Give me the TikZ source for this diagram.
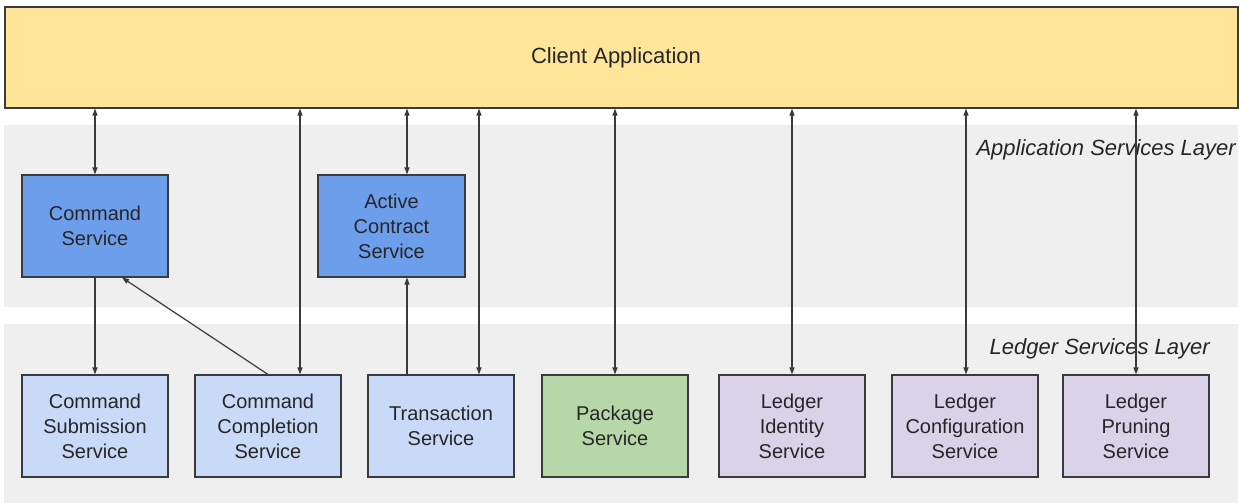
\documentclass[tikz,border=0pt]{standalone}
\usepackage{fontspec}
\setmainfont{Liberation Sans}
\usetikzlibrary{arrows.meta}
\definecolor{clientfill}{HTML}{FFE599}
\definecolor{bandfill}{HTML}{EFEFEF}
\definecolor{appfill}{HTML}{6D9EEB}
\definecolor{ledgerblue}{HTML}{C9DAF8}
\definecolor{pkgfill}{HTML}{B6D7A8}
\definecolor{purplefill}{HTML}{D9D2E9}
\definecolor{edge}{HTML}{3A3A3A}
\tikzset{
  svcbox/.style={draw=edge, line width=1.1pt, minimum width=146pt, minimum height=102pt, inner sep=0pt, align=center, font=\fontsize{20}{25}\selectfont, text=black!85},
  band/.style={fill=bandfill, draw=none},
  layerlabel/.style={font=\fontsize{22}{26}\selectfont\itshape, text=black!85, inner sep=0pt},
  conn/.style={draw=edge, line width=1.2pt, -{Triangle[length=7pt,width=5pt]}},
  biconn/.style={draw=edge, line width=1.2pt, {Triangle[length=7pt,width=5pt]}-{Triangle[length=7pt,width=5pt]}}
}
\begin{document}
\begin{tikzpicture}[x=1pt,y=-1pt]
\useasboundingbox (0,0) rectangle (1247,503);
\fill[white] (0,0) rectangle (1247,503);
% bands
\path[band] (4,125) rectangle (1238,307);
\path[band] (4,324) rectangle (1238,503);
\node[layerlabel, anchor=east] (applab) at (1236,150) {Application Services Layer};
\node[layerlabel, anchor=east] (ledlab) at (1210,349) {Ledger Services Layer};
% client
\node[svcbox, fill=clientfill, minimum width=1233pt, minimum height=101pt] (client) at (621.5,57.5) {};
\node[font=\fontsize{22}{26}\selectfont, text=black!85, inner sep=0pt] (clientlab) at (616,58) {Client Application};
% application services
\node[svcbox, fill=appfill] (cmd) at (95,226) {Command\\Service};
\node[svcbox, fill=appfill, minimum width=147pt] (acs) at (391.5,226) {Active\\Contract\\Service};
% ledger services
\node[svcbox, fill=ledgerblue] (sub) at (95,426) {Command\\Submission\\Service};
\node[svcbox, fill=ledgerblue] (comp) at (268,426) {Command\\Completion\\Service};
\node[svcbox, fill=ledgerblue] (tx) at (441,426) {Transaction\\Service};
\node[svcbox, fill=pkgfill] (pkg) at (615,426) {Package\\Service};
\node[svcbox, fill=purplefill] (lid) at (792,426) {Ledger\\Identity\\Service};
\node[svcbox, fill=purplefill] (lcfg) at (965,426) {Ledger\\Configuration\\Service};
\node[svcbox, fill=purplefill] (lpr) at (1136,426) {Ledger\\Pruning\\Service};
% connector end points
\coordinate (compin) at ([xshift=32pt]comp.north);
\coordinate (compout) at (comp.north);
\coordinate (cmdin) at ([xshift=27pt]cmd.south);
\coordinate (acsin) at ([xshift=15.5pt]acs.north);
\coordinate (acsbot) at ([xshift=15.5pt]acs.south);
\coordinate (txa) at ([xshift=-34pt]tx.north);
\coordinate (txb) at ([xshift=38pt]tx.north);
\coordinate (cfgin) at ([xshift=1pt]lcfg.north);
% connectors
\draw[biconn] (client.south -| cmd.north) -- (cmd.north);
\draw[conn] (cmd.south) -- (sub.north);
\draw[conn] (compout) -- (cmdin);
\draw[biconn] (client.south -| compin) -- (compin);
\draw[biconn] (client.south -| acsin) -- (acsin);
\draw[conn] (txa) -- (txa |- acsbot);
\draw[biconn] (client.south -| txb) -- (txb);
\draw[biconn] (client.south -| pkg.north) -- (pkg.north);
\draw[biconn] (client.south -| lid.north) -- (lid.north);
\draw[biconn] (client.south -| cfgin) -- (cfgin);
\draw[biconn] (client.south -| lpr.north) -- (lpr.north);
\end{tikzpicture}
\end{document}
